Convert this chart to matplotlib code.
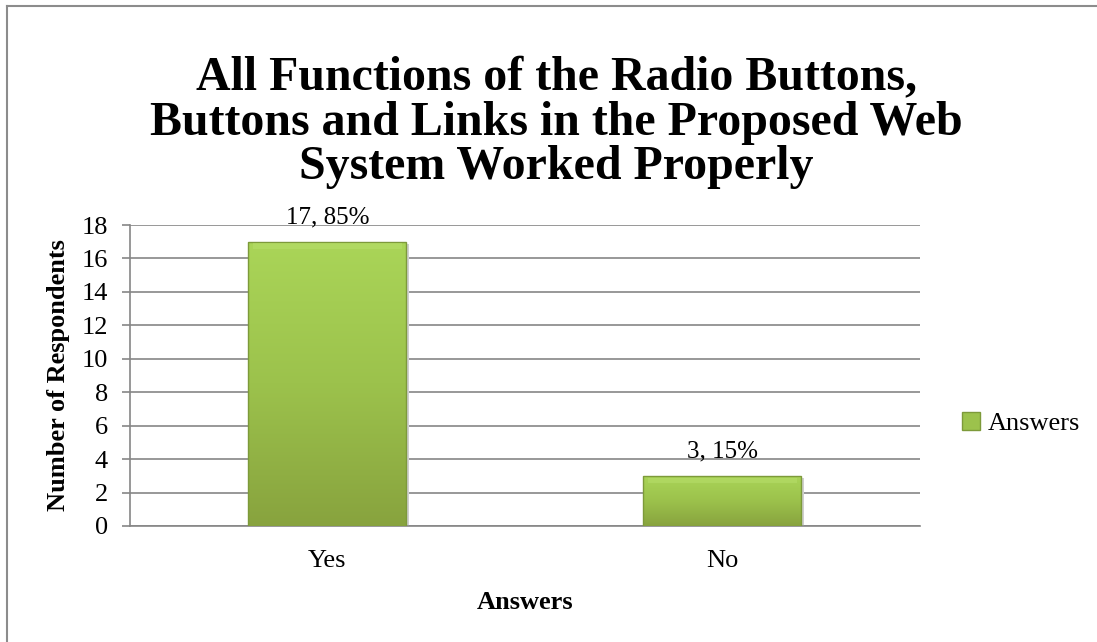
import numpy as np
import matplotlib.pyplot as plt
from matplotlib.patches import Patch, Rectangle
from matplotlib.colors import LinearSegmentedColormap

plt.rcParams['font.family'] = ['Liberation Serif', 'DejaVu Serif']

categories = ['Yes', 'No']
counts = [17, 3]
labels = ['17, 85%', '3, 15%']
title = ('All Functions of the Radio Buttons,\n'
         'Buttons and Links in the Proposed Web\n'
         'System Worked Properly')

fig = plt.figure(figsize=(10.97, 6.42), dpi=100)
ax = fig.add_axes([0.1185, 0.1807, 0.72, 0.4688])

# outer chart border (top/left visible)
fig.add_artist(plt.Line2D([0.0065, 0.0065], [0, 0.991], color='#8c8c8c', lw=1.5))
fig.add_artist(plt.Line2D([0.0065, 1.0], [0.991, 0.991], color='#8c8c8c', lw=1.5))

x = np.arange(len(categories))
bars = ax.bar(x, counts, width=0.4, color='none', edgecolor='none', zorder=3)

cmap = LinearSegmentedColormap.from_list('g', ['#88a33e', '#9cc24c', '#aad558'])
grad = np.linspace(0, 1, 256).reshape(-1, 1)
for b in bars:
    x0, y0 = b.get_x(), b.get_y()
    w, h = b.get_width(), b.get_height()
    # soft shadow
    ax.add_patch(Rectangle((x0 + 0.006, y0 - 0.12), w, h, color='#cfcfcf',
                           lw=0, zorder=2.5))
    im = ax.imshow(grad, cmap=cmap, origin='lower', aspect='auto',
                   extent=[x0, x0 + w, y0, y0 + h], zorder=3)
    rect = Rectangle((x0, y0), w, h, transform=ax.transData)
    im.set_clip_path(rect)
    ax.add_patch(Rectangle((x0, y0), w, h, fill=False, edgecolor='#7d9a3a',
                           lw=1.0, zorder=4))
    # simple bevel highlight
    ax.add_patch(Rectangle((x0 + 0.012, y0 + h - 0.45), w - 0.024, 0.35,
                           color='#b8de6c', alpha=0.5, lw=0, zorder=4))

for xi, v, lab in zip(x, counts, labels):
    ax.text(xi, v + 0.8, lab, ha='center', va='bottom', fontsize=18)

ax.set_xlim(-0.5, 1.5)
ax.set_ylim(0, 18)
ax.set_yticks(range(0, 19, 2))
ax.set_xticks(x)
ax.set_xticklabels(categories)
ax.tick_params(axis='x', length=0, pad=17, labelsize=19)
ax.tick_params(axis='y', length=6, width=1.2, color='#868686', pad=10, labelsize=19)
ax.yaxis.grid(True, color='#868686', lw=1.2, zorder=0)
ax.set_axisbelow(True)
for s in ['top', 'right']:
    ax.spines[s].set_visible(False)
for s in ['left', 'bottom']:
    ax.spines[s].set_color('#868686')
    ax.spines[s].set_linewidth(1.2)

ax.set_xlabel('Answers', fontsize=19, fontweight='bold', labelpad=14)
ax.set_ylabel('Number of Respondents', fontsize=19, fontweight='bold', labelpad=8)

fig.text(0.507, 0.809, title, ha='center', va='center', fontsize=34.5,
         fontweight='bold', linespacing=1.0)

handle = Patch(facecolor='#9cc24c', edgecolor='#7d9a3a')
fig.legend([handle], ['Answers'], loc='center left', bbox_to_anchor=(0.855, 0.34),
           frameon=False, fontsize=19, handlelength=0.7, handleheight=0.7,
           handletextpad=0.3)

fig.savefig('out.png', dpi=100)
